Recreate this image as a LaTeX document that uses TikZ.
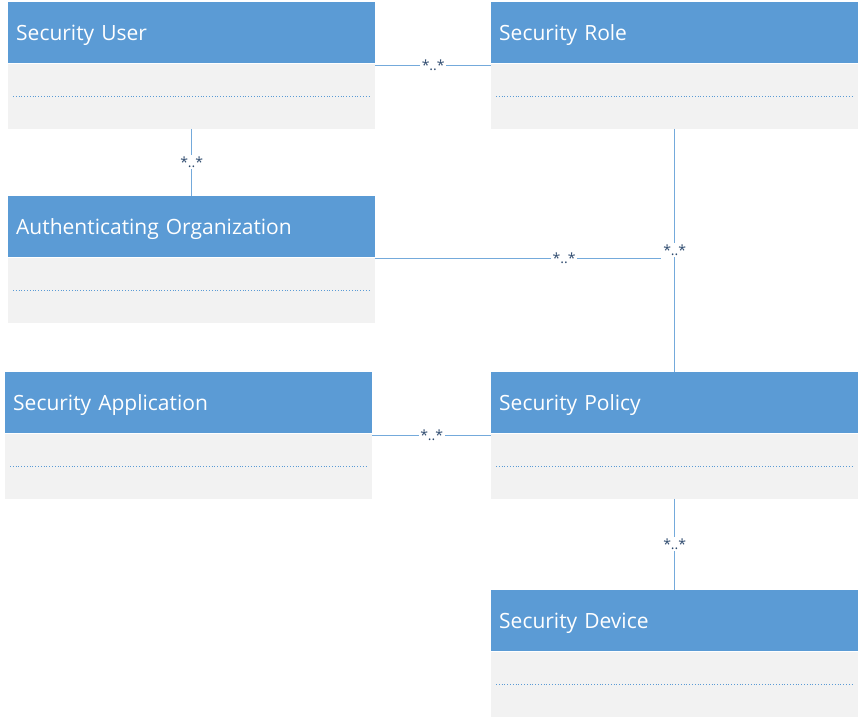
\documentclass[tikz,border=0pt]{standalone}
\usepackage{fontspec}
\setmainfont{Open Sans}
\usetikzlibrary{positioning}
\definecolor{hdrblue}{HTML}{5B9BD5}
\definecolor{bodygray}{HTML}{F2F2F2}
\definecolor{multink}{HTML}{2E4A6E}

\tikzset{
  classhead/.style={anchor=north west, fill=hdrblue, text=white,
    text width=351pt, inner xsep=8pt, inner ysep=0pt, minimum height=61pt,
    text height=17pt, text depth=2pt,
    align=left, font=\fontsize{21}{25}\selectfont},
  classbody/.style={fill=bodygray, minimum width=367pt, minimum height=65pt,
    inner sep=0pt},
  link/.style={draw=hdrblue!85, line width=1.1pt},
  mult/.style={fill=white, inner sep=1.5pt, text=multink,
    font=\fontsize{14}{15}\selectfont}
}

% class box: name, x, y, title
\newcommand{\umlclass}[4]{%
  \node[classhead] (#1) at (#2,#3) {#4};
  \node[classbody, below=0pt of #1] (#1b) {};
  \draw[hdrblue, dotted, line width=0.8pt] ([xshift=5pt]#1b.west) -- ([xshift=-5pt]#1b.east);
}

\begin{document}
\begin{tikzpicture}[x=1pt,y=-1pt]
  \useasboundingbox (0,0) rectangle (860,718);

  \umlclass{user}{8}{2}{Security User}
  \umlclass{role}{491}{2}{Security Role}
  \umlclass{auth}{8}{196}{Authenticating Organization}
  \umlclass{app}{5}{372}{Security Application}
  \umlclass{policy}{491}{372}{Security Policy}
  \umlclass{device}{491}{590}{Security Device}

  % associations
  \draw[link] ([yshift=-2pt]userb.north east) -- ([yshift=-2pt]roleb.north west)
    node[mult, pos=0.5] (urm) {*..*};
  \draw[link] (userb.south) -- (auth.north)
    node[mult, pos=0.5] (uam) {*..*};
  \draw[link] (roleb.south) -- (policy.north)
    node[mult, pos=0.5] (rpm) {*..*};
  \draw[link] ([yshift=-1pt]authb.north east) -- ([yshift=-1pt]authb.north east -| rpm.west)
    node[mult, pos=0.66] (apm) {*..*};
  \draw[link] ([yshift=-2pt]appb.north east) -- ([yshift=-2pt]policyb.north west)
    node[mult, pos=0.5] (ppm) {*..*};
  \draw[link] (policyb.south) -- (device.north)
    node[mult, pos=0.5] (pdm) {*..*};
\end{tikzpicture}
\end{document}
